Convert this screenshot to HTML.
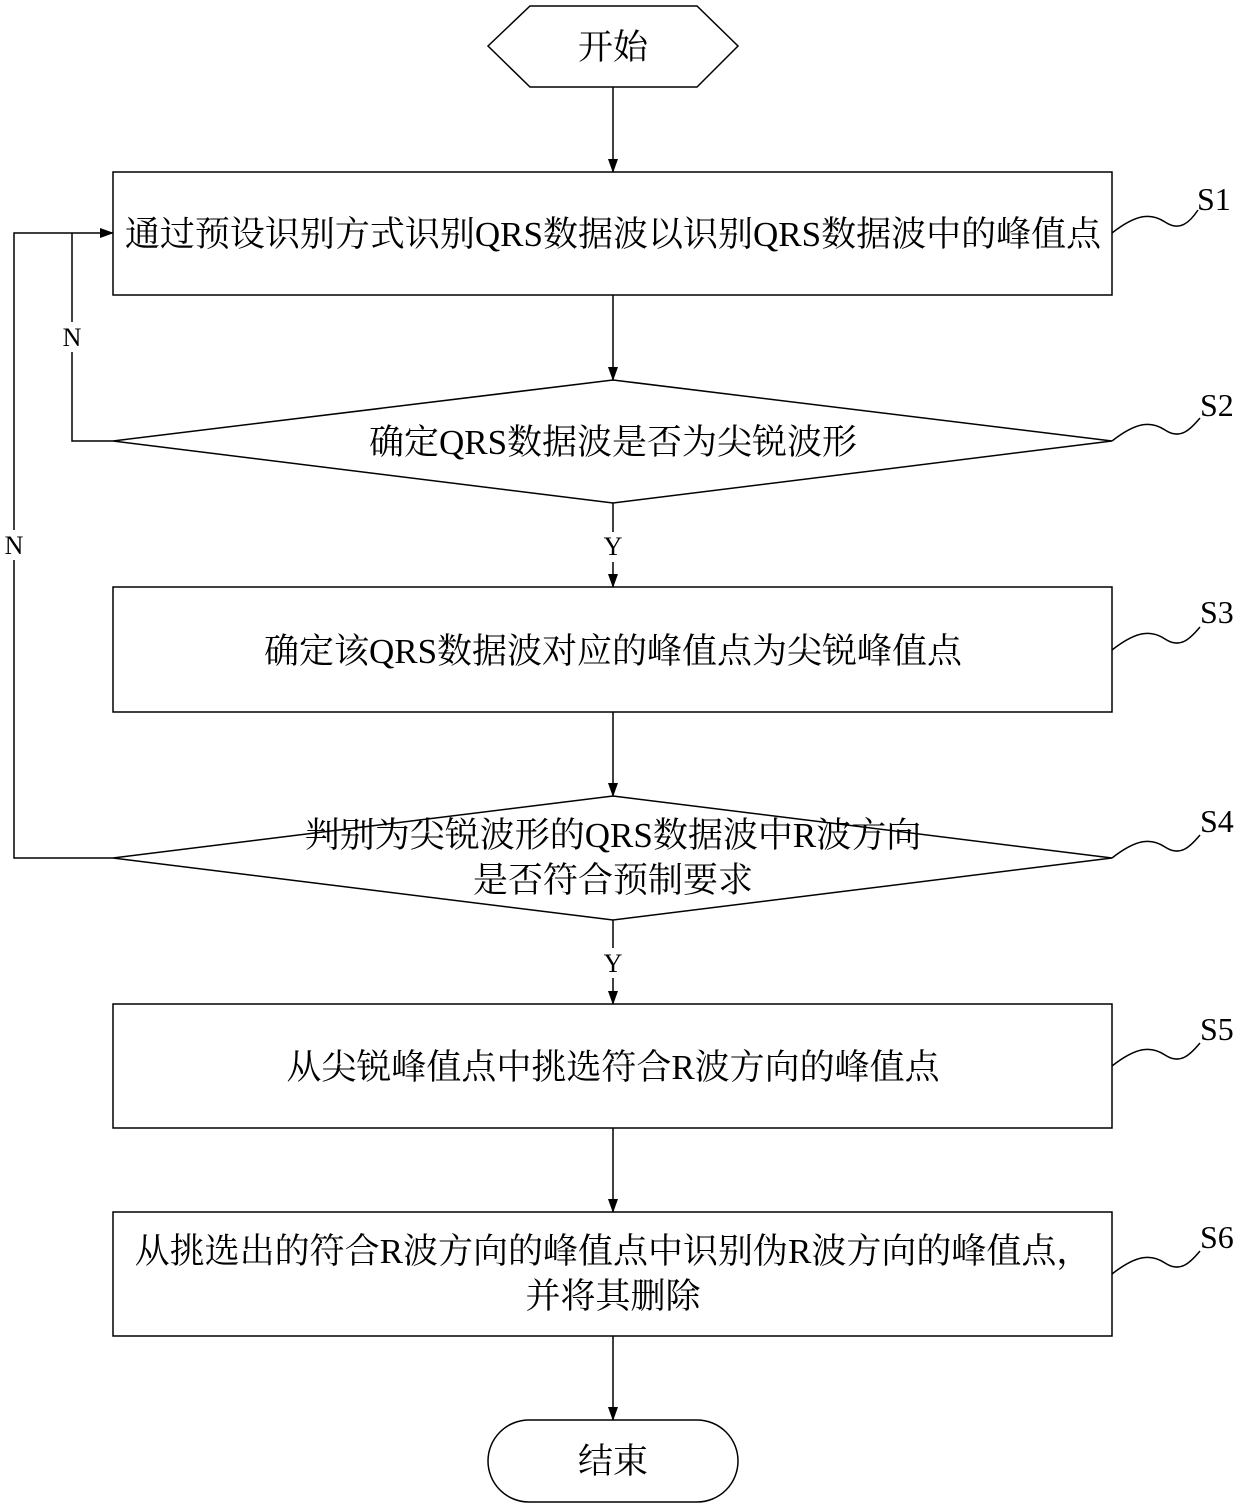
<!DOCTYPE html>
<html><head><meta charset="utf-8"><style>
html,body{margin:0;padding:0;background:#fff;}
svg{display:block}
text{font-family:"Liberation Serif","Noto Serif CJK SC","Noto Sans CJK SC",serif;fill:#000}
</style></head><body>
<svg width="1240" height="1509" viewBox="0 0 1240 1509" xmlns="http://www.w3.org/2000/svg">
<defs><marker id="a" markerWidth="14" markerHeight="10" refX="13" refY="5" orient="auto" markerUnits="userSpaceOnUse"><path d="M0,0 L14,5 L0,10 z" fill="#000"/></marker></defs>
<g fill="none" stroke="#000" stroke-width="1.5">
<polygon points="488,46 530,6 697,6 738,46 697,87 530,87" fill="#fff"/>
<line x1="613" y1="87" x2="613" y2="172" marker-end="url(#a)"/>
<rect x="113" y="172" width="999" height="123"/>
<line x1="613" y1="295" x2="613" y2="380" marker-end="url(#a)"/>
<polygon points="613,380 1112,441 613,503 113,441"/>
<line x1="613" y1="503" x2="613" y2="532"/>
<line x1="613" y1="562" x2="613" y2="587" marker-end="url(#a)"/>
<rect x="113" y="587" width="999" height="125"/>
<line x1="613" y1="712" x2="613" y2="796" marker-end="url(#a)"/>
<polygon points="613,796 1112,858 613,920 113,858"/>
<line x1="613" y1="920" x2="613" y2="948"/>
<line x1="613" y1="978" x2="613" y2="1004" marker-end="url(#a)"/>
<rect x="113" y="1004" width="999" height="124"/>
<line x1="613" y1="1128" x2="613" y2="1212" marker-end="url(#a)"/>
<rect x="113" y="1212" width="999" height="124"/>
<line x1="613" y1="1336" x2="613" y2="1420" marker-end="url(#a)"/>
<rect x="488" y="1420" width="250" height="82" rx="41" ry="41"/>
<polyline points="113,441 72,441 72,352"/>
<polyline points="72,322 72,233"/>
<polyline points="113,858 14,858 14,560"/>
<polyline points="14,530 14,233 113,233" marker-end="url(#a)"/>
<path d="M1112,233 C1135,215 1150,212 1165,222 C1180,232 1190,222 1198,210"/>
<path d="M1112,441 C1135,423 1150,420 1165,430 C1180,440 1190,430 1200,418"/>
<path d="M1112,650 C1135,632 1150,629 1165,639 C1180,649 1190,639 1200,627"/>
<path d="M1112,858 C1135,840 1150,837 1165,847 C1180,857 1190,847 1200,835"/>
<path d="M1112,1066 C1135,1048 1150,1045 1165,1055 C1180,1065 1190,1055 1200,1043"/>
<path d="M1112,1274 C1135,1256 1150,1253 1165,1263 C1180,1273 1190,1263 1200,1251"/>
</g>
<g font-size="35" text-anchor="middle">
<text x="613" y="59">开始</text>
<text x="613" y="246">通过预设识别方式识别QRS数据波以识别QRS数据波中的峰值点</text>
<text x="613" y="454">确定QRS数据波是否为尖锐波形</text>
<text x="613" y="663">确定该QRS数据波对应的峰值点为尖锐峰值点</text>
<text x="613" y="847">判别为尖锐波形的QRS数据波中R波方向</text>
<text x="613" y="892">是否符合预制要求</text>
<text x="613" y="1079">从尖锐峰值点中挑选符合R波方向的峰值点</text>
<text x="613" y="1263">从挑选出的符合R波方向的峰值点中识别伪R波方向的峰值点，</text>
<text x="613" y="1308">并将其删除</text>
<text x="613" y="1473">结束</text>
</g>
<g font-size="26" text-anchor="middle">
<text x="613" y="555">Y</text>
<text x="613" y="972">Y</text>
<text x="72" y="346">N</text>
<text x="14" y="554">N</text>
</g>
<g font-size="32">
<text x="1197" y="210">S1</text>
<text x="1200" y="416">S2</text>
<text x="1200" y="623">S3</text>
<text x="1200" y="832">S4</text>
<text x="1200" y="1040">S5</text>
<text x="1200" y="1248">S6</text>
</g>
</svg>
</body></html>
